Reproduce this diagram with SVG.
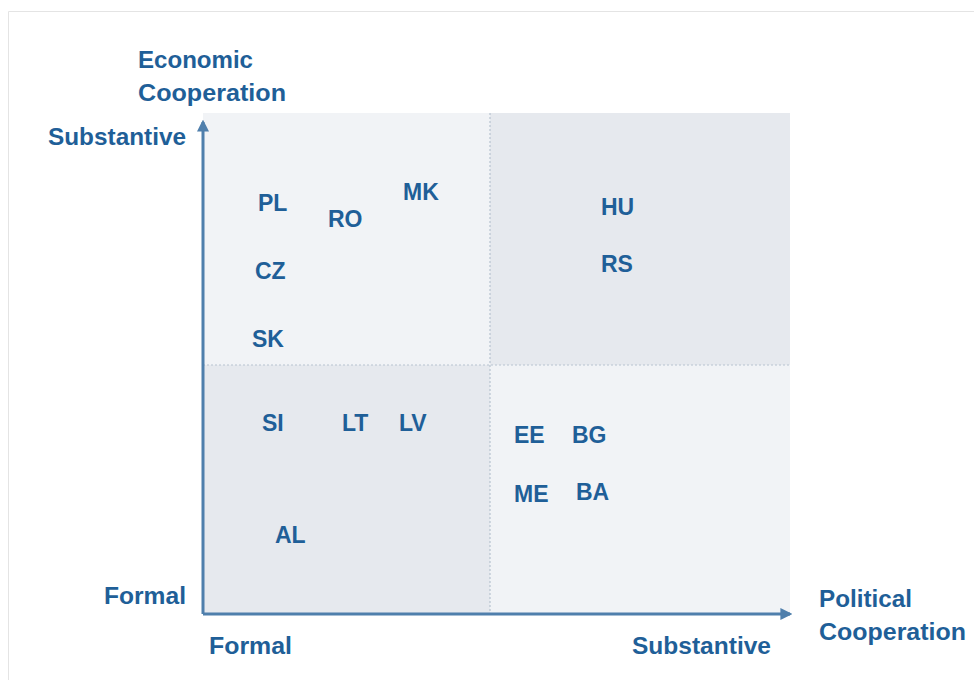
<svg xmlns="http://www.w3.org/2000/svg" width="974" height="680" viewBox="0 0 974 680">
<defs>
<style>
text{font-family:"Liberation Sans",Arial,sans-serif;font-weight:bold;fill:#1f5f98;font-size:23px}
.ax{font-size:24px}
.q1{fill:#f1f3f6}
.q2{fill:#e6e9ee}
.dash{stroke:#b7c3d0;stroke-width:1.2;stroke-dasharray:2 2;fill:none}
.axis{stroke:#4f7fac;stroke-width:3;fill:none}
</style>
<marker id="ah" viewBox="0 0 10 10" refX="8" refY="5" markerWidth="4" markerHeight="4" orient="auto" markerUnits="strokeWidth">
<path d="M0,0 L10,5 L0,10 z" fill="#4f7fac"/>
</marker>
</defs>
<rect width="974" height="680" fill="#ffffff"/>
<path d="M8.5,680 V11.5 H974" fill="none" stroke="#e4e4e4" stroke-width="1"/>
<g id="quadrants">
<rect class="q1" x="203" y="113" width="287" height="252"/>
<rect class="q2" x="490" y="113" width="300" height="252"/>
<rect class="q2" x="203" y="365" width="287" height="249"/>
<rect class="q1" x="490" y="365" width="300" height="249"/>
</g>
<g id="connectors">
<line class="dash" x1="490" y1="113" x2="490" y2="614"/>
<line class="dash" x1="203" y1="365" x2="790" y2="365"/>
<line class="axis" x1="203" y1="614" x2="203" y2="122" marker-end="url(#ah)"/>
<line class="axis" x1="203" y1="614" x2="790" y2="614" marker-end="url(#ah)"/>
</g>
<g id="axis-labels">
<text class="ax" x="138" y="68" textLength="115" lengthAdjust="spacingAndGlyphs">Economic</text>
<text class="ax" x="138" y="101" textLength="148" lengthAdjust="spacingAndGlyphs">Cooperation</text>
<text class="ax" x="48" y="145" textLength="138" lengthAdjust="spacingAndGlyphs">Substantive</text>
<text class="ax" x="104" y="604" textLength="82" lengthAdjust="spacingAndGlyphs">Formal</text>
<text class="ax" x="209" y="654" textLength="83" lengthAdjust="spacingAndGlyphs">Formal</text>
<text class="ax" x="632" y="654" textLength="139" lengthAdjust="spacingAndGlyphs">Substantive</text>
<text class="ax" x="819" y="607" textLength="93" lengthAdjust="spacingAndGlyphs">Political</text>
<text class="ax" x="819" y="640" textLength="147" lengthAdjust="spacingAndGlyphs">Cooperation</text>
</g>
<g id="PL"><text x="258" y="211">PL</text></g>
<g id="RO"><text x="328" y="227">RO</text></g>
<g id="MK"><text x="403" y="200">MK</text></g>
<g id="CZ"><text x="255" y="279">CZ</text></g>
<g id="SK"><text x="252" y="347">SK</text></g>
<g id="HU"><text x="601" y="215">HU</text></g>
<g id="RS"><text x="601" y="272">RS</text></g>
<g id="SI"><text x="262" y="431">SI</text></g>
<g id="LT"><text x="342" y="431">LT</text></g>
<g id="LV"><text x="399" y="431">LV</text></g>
<g id="AL"><text x="275" y="543">AL</text></g>
<g id="EE"><text x="514" y="443">EE</text></g>
<g id="BG"><text x="572" y="443">BG</text></g>
<g id="ME"><text x="514" y="502">ME</text></g>
<g id="BA"><text x="576" y="500">BA</text></g>
</svg>
